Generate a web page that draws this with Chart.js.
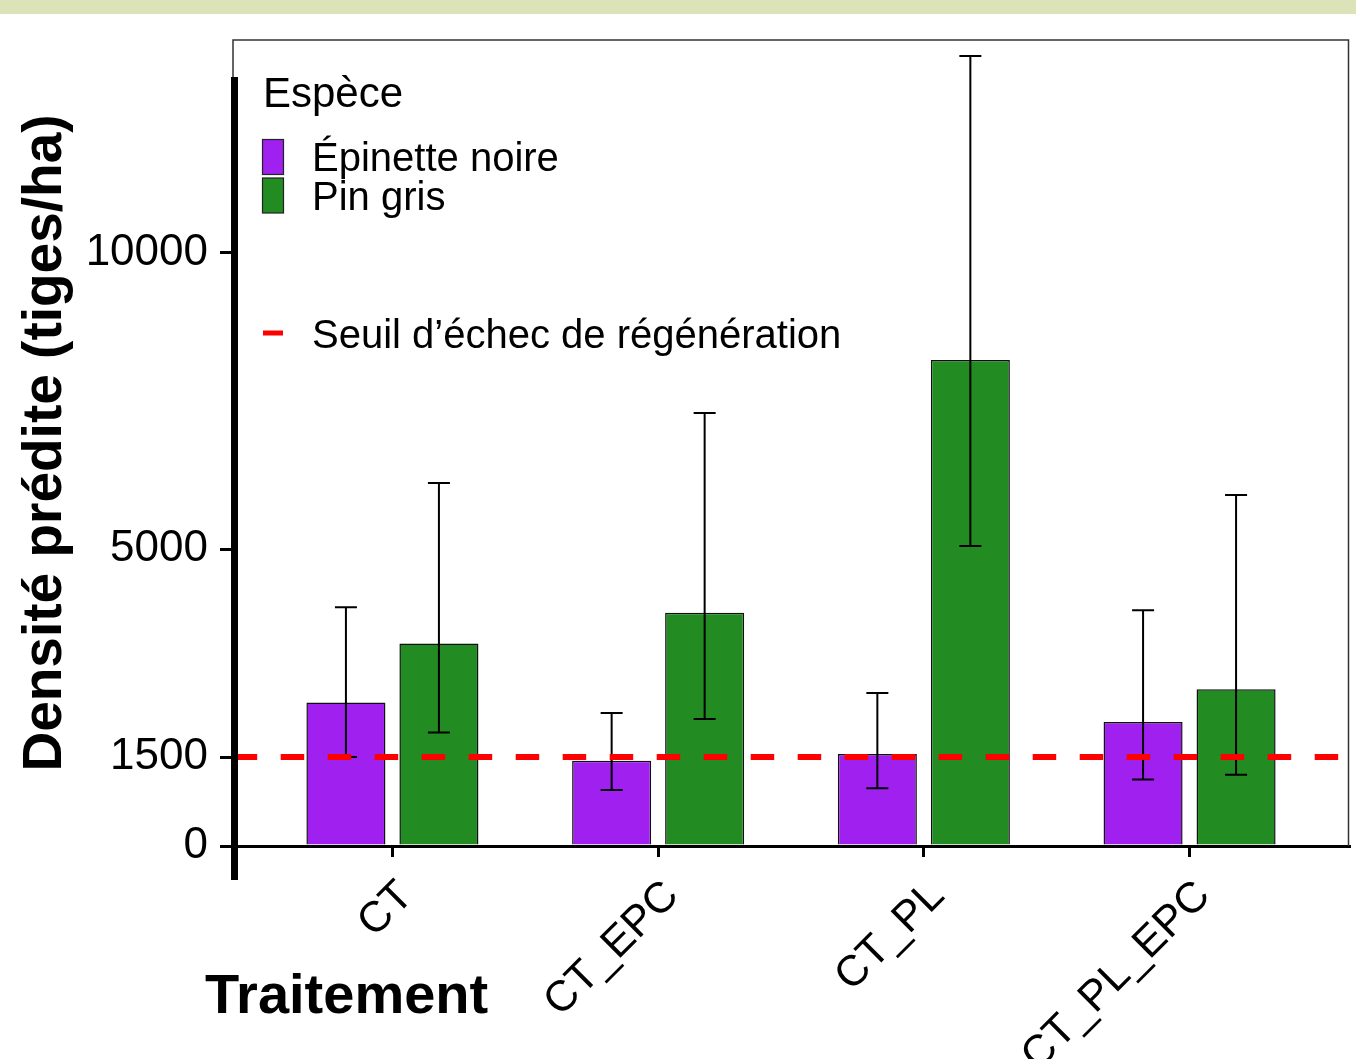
<!DOCTYPE html>
<html>
<head>
<meta charset="utf-8">
<script src="https://cdn.jsdelivr.net/npm/chart.js@4.4.0/dist/chart.umd.min.js"></script>
<style>
  html, body { margin: 0; padding: 0; background: #fff; }
  #cadre { width: 1356px; height: 1059px; }
</style>
</head>
<body>
<div id="cadre"><canvas id="densite" width="1356" height="1059"></canvas></div>
<script>
// Données
const traitements = ["CT", "CT_EPC", "CT_PL", "CT_PL_EPC"];
const especes = ["Épinette noire", "Pin gris"];
const epinette = [2420, 1435, 1550, 2090];
const epinetteBas = [1500, 945, 975, 1120];
const epinetteHaut = [4025, 2240, 2580, 3975];
const pin = [3415, 3930, 8190, 2640];
const pinBas = [1915, 2140, 5055, 1200];
const pinHaut = [6120, 7300, 13315, 5915];
const seuil = 1500;
const yTicks = [0, 1500, 5000, 10000];

const police = "'Liberation Sans', Arial, sans-serif";

// Barres d'erreur dessinées juste après chaque jeu de barres
const barresErreur = {
  id: "barresErreur",
  afterDatasetDraw(chart, args) {
    const ds = chart.data.datasets[args.index];
    if (!ds.bas) return;
    const y = chart.scales.y;
    const c = chart.ctx;
    c.save();
    c.strokeStyle = "#000";
    c.lineWidth = 2;
    args.meta.data.forEach((barre, i) => {
      const x = barre.x;
      const y1 = y.getPixelForValue(ds.bas[i]);
      const y2 = y.getPixelForValue(ds.haut[i]);
      c.beginPath();
      c.moveTo(x, y1); c.lineTo(x, y2);
      c.moveTo(x - 11, y1); c.lineTo(x + 11, y1);
      c.moveTo(x - 11, y2); c.lineTo(x + 11, y2);
      c.stroke();
    });
    c.restore();
  }
};

// Bandeau, cadre, légende et titre de l'axe x
const decor = {
  id: "decor",
  beforeDraw(chart) {
    const c = chart.ctx;
    c.save();
    c.fillStyle = "#dce3b9";
    c.fillRect(0, 0, chart.width, 14);
    c.restore();
  },
  afterDraw(chart) {
    const c = chart.ctx;
    const a = chart.chartArea;
    c.save();
    // cadre fin
    c.strokeStyle = "#333";
    c.lineWidth = 1.5;
    c.beginPath();
    c.moveTo(a.left, a.bottom);
    c.lineTo(a.left, a.top);
    c.lineTo(a.right - 0.5, a.top);
    c.lineTo(a.right - 0.5, a.bottom);
    c.stroke();
    // axe gauche épais
    c.strokeStyle = "#000";
    c.lineWidth = 7;
    c.beginPath();
    c.moveTo(a.left + 1.5, 77);
    c.lineTo(a.left + 1.5, 880);
    c.stroke();

    // légende
    c.fillStyle = "#000";
    c.textBaseline = "alphabetic";
    c.textAlign = "left";
    c.font = "42px " + police;
    c.fillText("Espèce", 263, 107);
    c.font = "40px " + police;
    const ds = chart.data.datasets;
    [0, 1].forEach(i => {
      const yk = 139.5 + i * 38.5;
      c.fillStyle = ds[i].backgroundColor;
      c.fillRect(262.5, yk, 21, 35);
      c.strokeStyle = "#222";
      c.lineWidth = 1.2;
      c.strokeRect(262.5, yk, 21, 35);
      c.fillStyle = "#000";
      c.fillText(ds[i].label, 312, yk + 17.5 + 14);
    });
    c.strokeStyle = ds[2].borderColor;
    c.lineWidth = 5;
    c.beginPath();
    c.moveTo(263, 333);
    c.lineTo(283, 333);
    c.stroke();
    c.fillText(ds[2].label, 312, 348);

    // titre de l'axe x
    c.font = "bold 56px " + police;
    c.fillText("Traitement", 205, 1013);
    c.restore();
  }
};

const ctx = document.getElementById("densite").getContext("2d");
const chart = new Chart(ctx, {
  type: "bar",
  data: {
    datasets: [
      {
        label: especes[0],
        data: epinette.map((v, i) => ({ x: i, y: v })),
        bas: epinetteBas, haut: epinetteHaut,
        backgroundColor: "#a020f0",
        borderColor: "#111",
        borderWidth: 1.5,
        categoryPercentage: 0.7,
        barPercentage: 0.85,
        order: 1
      },
      {
        label: especes[1],
        data: pin.map((v, i) => ({ x: i, y: v })),
        bas: pinBas, haut: pinHaut,
        backgroundColor: "#228b22",
        borderColor: "#111",
        borderWidth: 1.5,
        categoryPercentage: 0.7,
        barPercentage: 0.85,
        order: 1
      },
      {
        type: "line",
        label: "Seuil d’échec de régénération",
        data: [{ x: -0.6, y: seuil }, { x: 3.6, y: seuil }],
        borderColor: "#ff0000",
        borderWidth: 6,
        borderDash: [23.5, 23.5],
        borderDashOffset: -0.7,
        pointRadius: 0,
        order: 0
      }
    ]
  },
  options: {
    responsive: false,
    animation: false,
    layout: { padding: { top: 40, right: 7, left: 0, bottom: 0 } },
    plugins: {
      legend: { display: false },
      tooltip: { enabled: false }
    },
    scales: {
      x: {
        type: "linear",
        min: -0.6,
        max: 3.6,
        offset: false,
        afterBuildTicks: s => { s.ticks = traitements.map((t, i) => ({ value: i })); },
        afterFit: s => { s.height = 213; },
        ticks: {
          autoSkip: false,
          minRotation: 45,
          maxRotation: 45,
          padding: 14,
          labelOffset: 14,
          color: "#000",
          font: { family: police, size: 43 },
          callback: v => traitements[v]
        },
        grid: { offset: false, drawOnChartArea: false, tickLength: 11, lineWidth: 3, color: "#000" },
        border: { display: true, width: 3, color: "#000" }
      },
      y: {
        min: 0,
        max: 13585,
        afterBuildTicks: s => { s.ticks = yTicks.map(v => ({ value: v })); },
        afterFit: s => { s.width = 233; },
        ticks: {
          autoSkip: false,
          padding: 12,
          color: "#000",
          font: { family: police, size: 44 },
          callback: v => String(v)
        },
        grid: { drawOnChartArea: false, tickLength: 13, lineWidth: 3, color: "#000" },
        border: { display: false },
        title: {
          display: true,
          text: "Densité prédite (tiges/ha)",
          color: "#000",
          font: { family: police, size: 55, weight: "bold" },
          padding: { top: 13, bottom: 0 }
        }
      }
    }
  },
  plugins: [barresErreur, decor]
});
</script>
</body>
</html>
